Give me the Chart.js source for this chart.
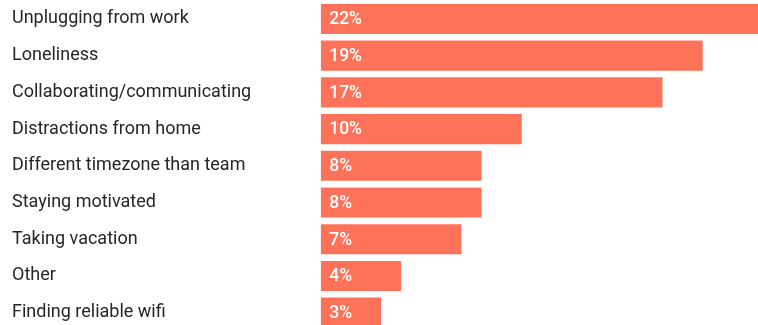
<!DOCTYPE html>
<html>
<head>
<meta charset="utf-8">
<script src="https://cdn.jsdelivr.net/npm/chart.js@4/dist/chart.umd.min.js"></script>
<style>
html,body{margin:0;padding:0;background:#fff;overflow:hidden;width:758px;height:325px;}
#wrap{position:relative;width:758px;height:331px;}
</style>
</head>
<body>
<div id="wrap"><canvas id="c"></canvas></div>
<script>
const categories = ["Unplugging from work","Loneliness","Collaborating/communicating","Distractions from home","Different timezone than team","Staying motivated","Taking vacation","Other","Finding reliable wifi"];
const values = [22, 19, 17, 10, 8, 8, 7, 4, 3];
const valueLabels = ["22%","19%","17%","10%","8%","8%","7%","4%","3%"];
const barColor = "#FF725A";

const labelPlugin = {
  id: 'valueLabels',
  afterDatasetsDraw(chart) {
    const ctx = chart.ctx;
    const meta = chart.getDatasetMeta(0);
    ctx.save();
    ctx.fillStyle = '#ffffff';
    ctx.font = '500 17.5px Roboto';
    ctx.textAlign = 'left';
    ctx.textBaseline = 'middle';
    meta.data.forEach((bar, i) => {
      ctx.fillText(valueLabels[i], bar.base + 8.5, bar.y + 1);
    });
    ctx.restore();
  }
};

new Chart(document.getElementById('c'), {
  type: 'bar',
  data: {
    labels: categories,
    datasets: [{
      data: values,
      backgroundColor: barColor,
      borderWidth: 0,
      categoryPercentage: 0.82,
      barPercentage: 1.0
    }]
  },
  options: {
    indexAxis: 'y',
    responsive: true,
    maintainAspectRatio: false,
    animation: false,
    layout: { padding: { left: 12, right: 0, top: 0.6, bottom: 0 } },
    plugins: { legend: { display: false }, tooltip: { enabled: false } },
    scales: {
      x: { display: false, min: 0, max: 21.75 },
      y: {
        grid: { display: false, drawTicks: false },
        border: { display: false },
        ticks: {
          crossAlign: 'far',
          color: '#262626',
          font: { family: 'Roboto', size: 18 },
          padding: 0
        },
        afterFit(scale) {
          scale.width = 308.7;
          scale.paddingTop = 0;
          scale.paddingBottom = 0;
        }
      }
    }
  },
  plugins: [labelPlugin]
});
</script>
</body>
</html>
